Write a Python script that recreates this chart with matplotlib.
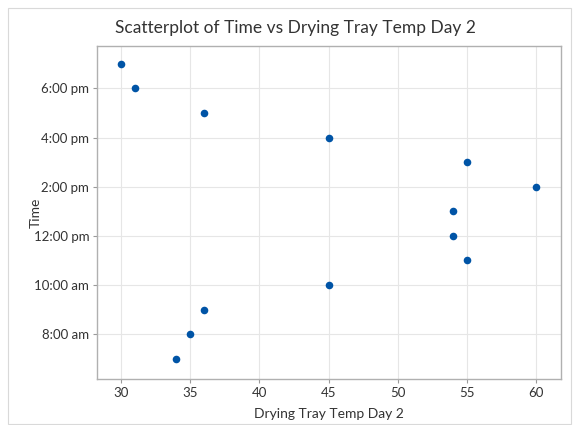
import matplotlib.pyplot as plt
from matplotlib.patches import Rectangle

# Drying tray temperature (day 2) vs time of day (hours, 24h clock)
temps = [30, 31, 36, 45, 55, 60, 54, 54, 55, 45, 36, 35, 34]
hours = [19, 18, 17, 16, 15, 14, 13, 12, 11, 10, 9, 8, 7]

x_ticks = [30, 35, 40, 45, 50, 55, 60]
y_ticks = [8, 10, 12, 14, 16, 18]
y_labels = ["8:00 am", "10:00 am", "12:00 pm", "2:00 pm", "4:00 pm", "6:00 pm"]

plt.rcParams['font.family'] = ['Lato', 'DejaVu Sans']

fig = plt.figure(figsize=(5.74, 4.25), dpi=100)
fig.patches.append(Rectangle((8 / 574, 0.002), 563 / 574, 1 - 8 / 425 - 0.002,
                             transform=fig.transFigure, fill=False,
                             edgecolor="#d9d9d9", linewidth=0.8))

ax = fig.add_axes([97 / 574, 1 - 379 / 425, (561 - 97) / 574, (379 - 46) / 425])
ax.scatter(temps, hours, s=30, color="#0054a6", zorder=3, linewidths=0)

ax.set_xlim(28.26, 61.8)
ax.set_ylim(6.17, 19.73)
ax.set_xticks(x_ticks)
ax.set_yticks(y_ticks)
ax.set_yticklabels(y_labels)
ax.tick_params(labelsize=9.5, colors="#333333", length=3, width=0.8, pad=2.5)
ax.tick_params(axis="both", color="#9a9a9a")
ax.grid(color="#e6e6e6", linewidth=0.8)
ax.set_axisbelow(True)
for s in ax.spines.values():
    s.set_color("#b0b0b0")
    s.set_linewidth(1.0)

ax.set_xlabel("Drying Tray Temp Day 2", fontsize=10, color="#333333")
ax.set_ylabel("Time", fontsize=10, color="#333333")
ax.xaxis.set_label_coords(0.5, -0.087)
ax.yaxis.set_label_coords(-0.12, 0.5)
fig.text(295 / 574, 1 - 28 / 425, "Scatterplot of Time vs Drying Tray Temp Day 2",
         ha="center", va="center", fontsize=12.5, color="#333333")

fig.savefig("out.png", dpi=100)
